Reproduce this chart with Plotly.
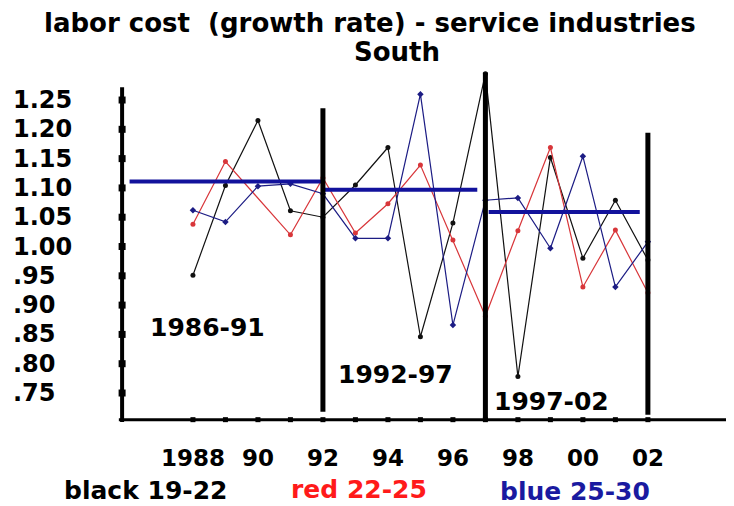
import plotly.graph_objects as go

# ---------------- data ----------------
years = [1988, 1989, 1990, 1991, 1992, 1993, 1994, 1995, 1996, 1997,
         1998, 1999, 2000, 2001, 2002]
black_vals = [0.951, 1.104, 1.215, 1.061, 1.050, 1.105, 1.169, 0.846, 1.040, 1.295,
              0.778, 1.152, 0.980, 1.079, 0.977]
red_years = [1988, 1989, 1991, 1992, 1993, 1994, 1995, 1996, 1997,
             1998, 1999, 2000, 2001, 2002]
red_vals = [1.038, 1.145, 1.020, 1.117, 1.023, 1.073, 1.139, 1.011, 0.881,
            1.027, 1.169, 0.931, 1.028, 0.921]
blue_vals = [1.062, 1.042, 1.103, 1.107, 1.090, 1.014, 1.014, 1.260, 0.866, 1.079,
             1.083, 0.997, 1.154, 0.931, 1.008]

period_labels = ["1986-91", "1992-97", "1997-02"]
mean_start = [1986.05, 1992.05, 1997.1]
mean_end = [1992.0, 1996.75, 2001.75]
mean_vals = [1.111, 1.097, 1.059]

sep_years = [1992, 1997, 2002]
sep_bottom = [0.718, 0.705, 0.713]
sep_top = [1.236, 1.297, 1.194]

ytick_vals = [1.25, 1.20, 1.15, 1.10, 1.05, 1.00, 0.95, 0.90, 0.85, 0.80, 0.75]
ytick_text = ["1.25", "1.20", "1.15", "1.10", "1.05", "1.00", ".95", ".90", ".85", ".80", ".75"]
xtick_vals = [1988, 1990, 1992, 1994, 1996, 1998, 2000, 2002]
xtick_text = ["1988", "90", "92", "94", "96", "98", "00", "02"]
xtick_marks = years

title_line1 = "labor cost  (growth rate) - service industries"
title_line2 = "South"
legend_texts = ["black 19-22", "red 22-25", "blue 25-30"]

# ---------------- styling / layout ----------------
OFF = 8                      # page body margin of the html page
W, H = 734 - OFF, 506 - OFF
ML, MR, MT, MB = 92, 0, 52, 80
X_RANGE = [1985.14, 2004.65]
Y_RANGE = [0.6937, 1.3183]
AXIS_X = 1985.82
AXIS_Y = 0.7045
AXIS_YTOP = 1.272
FONT = "DejaVu Sans"

BLACK = "#111111"
RED = "#d8363a"
BLUE = "#1c1c84"
MEAN_BLUE = "#12129c"

pw = W - ML - MR
ph = H - MT - MB


def sx(px):
    """screen pixel x -> paper fraction"""
    return (px - OFF - ML) / pw


def sy(py):
    """screen pixel y -> paper fraction"""
    return (H - MB - (py - OFF)) / ph


fig = go.Figure()

# series
fig.add_trace(go.Scatter(x=years, y=black_vals, mode="lines+markers",
                         line=dict(color=BLACK, width=1.2),
                         marker=dict(color=BLACK, size=5), showlegend=False))
fig.add_trace(go.Scatter(x=red_years, y=red_vals, mode="lines+markers",
                         line=dict(color=RED, width=1.2),
                         marker=dict(color=RED, size=5), showlegend=False))
fig.add_trace(go.Scatter(x=years, y=blue_vals, mode="lines+markers",
                         line=dict(color=BLUE, width=1.2),
                         marker=dict(color=BLUE, size=5, symbol="diamond"),
                         showlegend=False))

# period means (thick blue)
for x0, x1, v in zip(mean_start, mean_end, mean_vals):
    fig.add_trace(go.Scatter(x=[x0, x1], y=[v, v], mode="lines",
                             line=dict(color=MEAN_BLUE, width=4), showlegend=False))

shapes = []
for x, y0, y1 in zip(sep_years, sep_bottom, sep_top):
    shapes.append(dict(type="line", xref="x", yref="y", x0=x, x1=x, y0=y0, y1=y1,
                       line=dict(color="black", width=5)))
shapes.append(dict(type="line", xref="x", yref="y", x0=AXIS_X, x1=AXIS_X,
                   y0=AXIS_Y - 0.004, y1=AXIS_YTOP, line=dict(color="black", width=4)))
shapes.append(dict(type="line", xref="x", yref="y", x0=AXIS_X - 0.1, x1=X_RANGE[1],
                   y0=AXIS_Y, y1=AXIS_Y, line=dict(color="black", width=3)))

# tick squares
fig.add_trace(go.Scatter(x=[AXIS_X] * len(ytick_vals), y=ytick_vals, mode="markers",
                         marker=dict(symbol="square", size=7, color="black"),
                         showlegend=False, cliponaxis=False))
fig.add_trace(go.Scatter(x=xtick_marks, y=[AXIS_Y] * len(xtick_marks), mode="markers",
                         marker=dict(symbol="square", size=5, color="black"),
                         showlegend=False, cliponaxis=False))

annotations = []
bold = dict(family=FONT, weight="bold")


def label(text, x, y, size, color="black", xanchor="center", xref="paper", yref="paper"):
    annotations.append(dict(text=text, xref=xref, yref=yref, x=x, y=y,
                            xanchor=xanchor, yanchor="middle", showarrow=False,
                            font=dict(size=size, color=color, **bold)))


label(title_line1, sx(370), sy(23), 26)
label(title_line2, sx(397), sy(52), 26)
for v, t in zip(ytick_vals, ytick_text):
    label(t, sx(11), v, 24, xanchor="left", yref="y")
period_pos = [(207, 327), (395, 374), (551, 401)]
for lab, (cx, cy) in zip(period_labels, period_pos):
    label(lab, sx(cx), sy(cy), 25)
legend_pos = [(145, 490, "black"), (359, 489, "#ff1a1a"), (575, 491, "#1a1aa0")]
for lab, (cx, cy, col) in zip(legend_texts, legend_pos):
    label(lab, sx(cx), sy(cy), 25, color=col)

fig.update_layout(
    width=W, height=H,
    margin=dict(l=ML, r=MR, t=MT, b=MB, pad=0),
    paper_bgcolor="white", plot_bgcolor="white",
    shapes=shapes, annotations=annotations,
    xaxis=dict(range=X_RANGE, showgrid=False, zeroline=False, showline=False,
               tickmode="array", tickvals=xtick_vals, ticktext=xtick_text,
               ticks="", ticklabelstandoff=16,
               tickfont=dict(size=23, color="black", **bold)),
    yaxis=dict(range=Y_RANGE, showgrid=False, zeroline=False, showline=False,
               showticklabels=False, ticks=""),
)

fig.write_html("out.html")
